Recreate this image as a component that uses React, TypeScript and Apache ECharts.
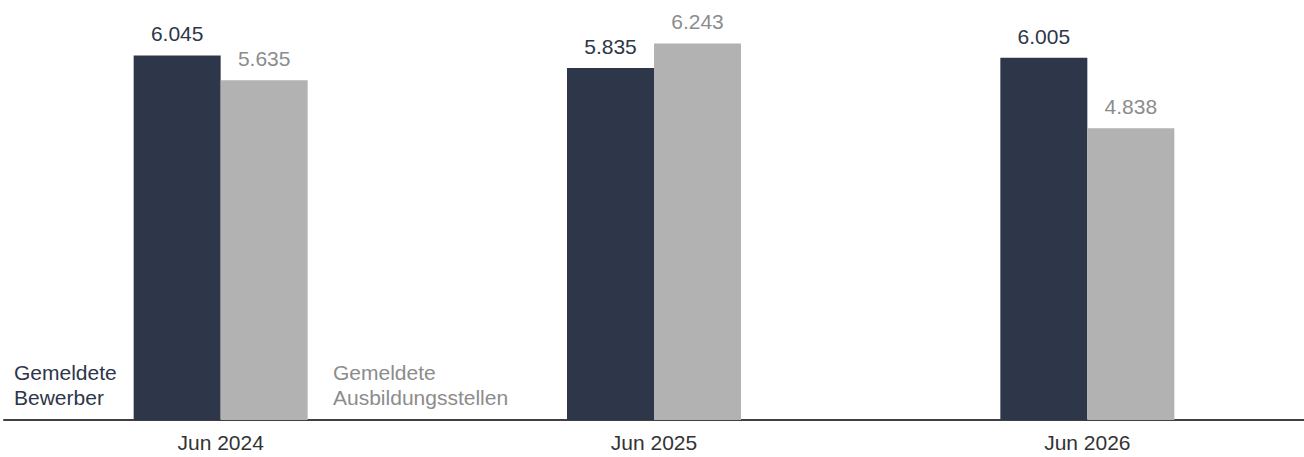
import React, { useEffect, useRef } from "react";
import * as echarts from "echarts";

const categories = ["Jun 2024", "Jun 2025", "Jun 2026"];
const bewerber = [6045, 5835, 6005];
const stellen = [5635, 6243, 4838];
const seriesNames = ["Gemeldete\nBewerber", "Gemeldete\nAusbildungsstellen"];

const DARK = "#2e3649";
const GREY = "#b2b2b2";
const GREY_TEXT = "#8c8c8c";
const FONT = '"Liberation Sans", Arial, sans-serif';

const fmt = (v: number) => v.toLocaleString("de-DE");

export default function App() {
  const ref = useRef<HTMLDivElement>(null);
  useEffect(() => {
    if (!ref.current) return;
    const chart = echarts.init(ref.current, null, { renderer: "svg" });
    chart.setOption({
      animation: false,
      grid: { left: 4, right: 0, top: 28, bottom: 37, containLabel: false },
      xAxis: {
        type: "category",
        data: categories,
        axisLine: { show: true, lineStyle: { color: "#404040", width: 2 } },
        axisTick: { show: false },
        axisLabel: { color: "#333333", fontSize: 21, fontFamily: FONT, margin: 12 },
      },
      yAxis: {
        type: "value",
        min: 0,
        max: 6500,
        show: false,
        splitLine: { show: false },
      },
      series: [
        {
          name: "Bewerber",
          type: "bar",
          data: bewerber,
          barWidth: 87,
          barGap: "0%",
          itemStyle: { color: DARK },
          label: {
            show: true,
            position: "top",
            distance: 11,
            color: DARK,
            fontSize: 21,
            fontFamily: FONT,
            formatter: (p: any) => fmt(p.value),
          },
        },
        {
          name: "Stellen",
          type: "bar",
          data: stellen,
          barWidth: 87,
          barGap: "0%",
          itemStyle: { color: GREY },
          label: {
            show: true,
            position: "top",
            distance: 11,
            color: GREY_TEXT,
            fontSize: 21,
            fontFamily: FONT,
            formatter: (p: any) => fmt(p.value),
          },
        },
      ],
      graphic: [
        {
          type: "text",
          left: 14,
          top: 360,
          style: {
            text: seriesNames[0],
            fill: DARK,
            font: `21px ${FONT}`,
            lineHeight: 25,
          },
        },
        {
          type: "text",
          left: 333,
          top: 360,
          style: {
            text: seriesNames[1],
            fill: GREY_TEXT,
            font: `21px ${FONT}`,
            lineHeight: 25,
          },
        },
      ],
    });
    return () => chart.dispose();
  }, []);
  return (
    <div
      ref={ref}
      style={{ position: "absolute", left: 0, top: 0, width: 1304, height: 457 }}
    />
  );
}
